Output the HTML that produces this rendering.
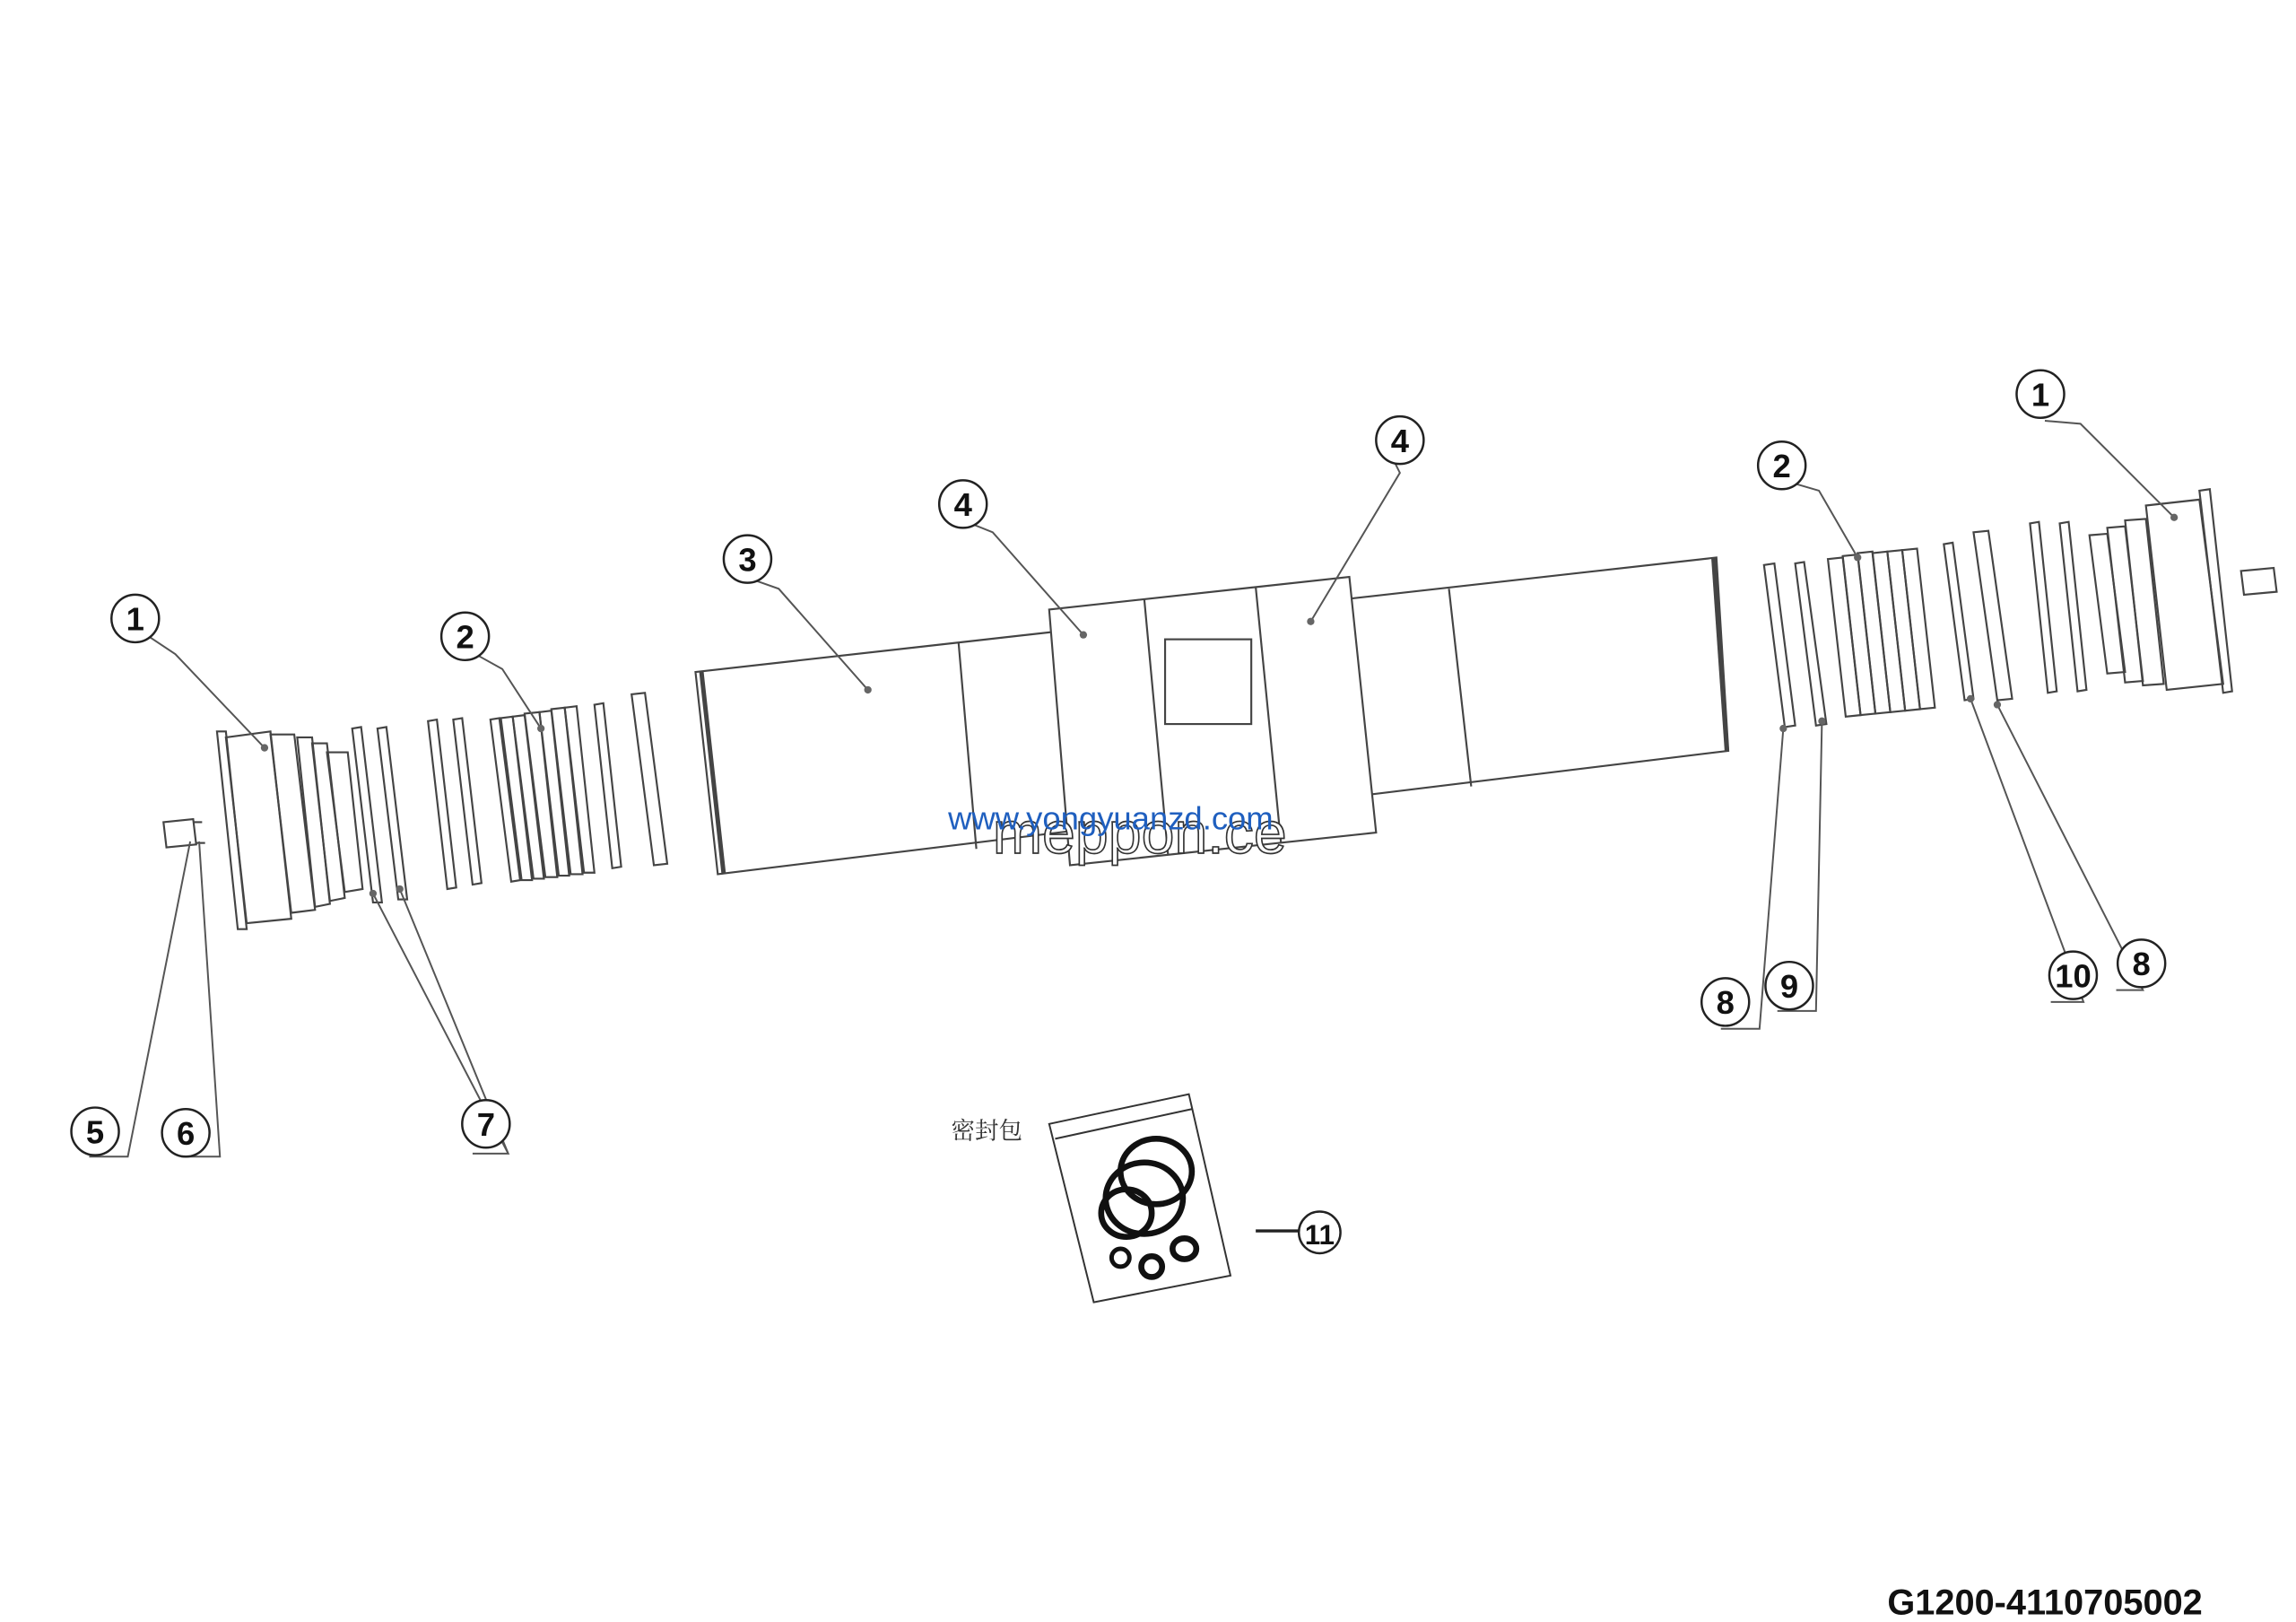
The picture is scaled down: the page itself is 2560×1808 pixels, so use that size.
<!DOCTYPE html>
<html><head><meta charset="utf-8"><style>
html,body{margin:0;padding:0;background:#fff;}
svg{display:block;}
text{font-family:"Liberation Sans",Arial,sans-serif;}
</style></head><body>
<svg width="2560" height="1808" viewBox="0 0 1545 1091" xmlns="http://www.w3.org/2000/svg">
<rect width="1545" height="1091" fill="#fff"/>
<g fill="none" stroke="#444" stroke-width="1.3">
<polygon points="468,452 1155,375 1163,505 483,588"/>
<line x1="472" y1="452" x2="487" y2="588" stroke-width="3"/>
<line x1="1153" y1="375" x2="1162" y2="505" stroke-width="3"/>
<line x1="645" y1="432" x2="657" y2="571"/>
<line x1="975" y1="396" x2="990" y2="529"/>
<polygon points="706,410 908,388 926,560 720,582" fill="#fff"/>
<line x1="770" y1="403" x2="786" y2="575"/>
<line x1="845" y1="395" x2="862" y2="567"/>
<rect x="784" y="430" width="58" height="57"/>
<polygon points="146,492 152,492 166,625 160,625"/>
<polygon points="152,496 182,492 196,618 166,621"/>
<polygon points="182,494 198,494 212,612 196,614"/>
<polygon points="200,496 210,496 222,608 212,610"/>
<polygon points="210,500 220,500 232,604 222,606"/>
<polygon points="220,506 234,506 244,598 232,600"/>
<polygon points="110,553 130,551 132,568 112,570"/>
<line x1="130" y1="553" x2="136" y2="553"/><line x1="132" y1="567" x2="138" y2="567"/>
<polygon points="237,490 243,489 257,607 251,607"/>
<polygon points="254,490 260,489 274,605 268,605"/>
<polygon points="288,485 294,484 307,597 301,598"/>
<polygon points="305,484 311,483 324,594 318,595"/>
<polygon points="330,484 336,483 350,592 344,593"/>
<polygon points="337,483 345,482 358,592 351,592"/>
<polygon points="345,482 353,481 366,591 359,591"/>
<polygon points="353,480 363,479 375,590 367,590"/>
<polygon points="363,479 371,478 383,589 376,589"/>
<polygon points="371,477 380,476 392,588 384,588"/>
<polygon points="380,476 388,475 400,587 393,587"/>
<polygon points="400,474 406,473 418,583 412,584"/>
<polygon points="425,467 434,466 449,581 440,582"/>
<polygon points="1187,380 1194,379 1208,488 1201,489"/>
<polygon points="1208,379 1214,378 1229,487 1222,488"/>
<polygon points="1230,376 1240,375 1252,481 1242,482"/>
<polygon points="1240,374 1250,373 1262,480 1252,481"/>
<polygon points="1250,372 1260,371 1272,479 1262,480"/>
<polygon points="1260,372 1270,371 1282,478 1272,479"/>
<polygon points="1270,371 1280,370 1292,477 1282,478"/>
<polygon points="1280,370 1290,369 1302,476 1292,477"/>
<polygon points="1308,366 1314,365 1328,470 1322,471"/>
<polygon points="1328,358 1338,357 1354,470 1344,471"/>
<polygon points="1366,352 1372,351 1384,465 1378,466"/>
<polygon points="1386,352 1392,351 1404,464 1398,465"/>
<polygon points="1406,360 1418,359 1430,452 1418,453"/>
<polygon points="1418,355 1430,354 1442,458 1430,459"/>
<polygon points="1430,350 1444,349 1456,460 1442,461"/>
<polygon points="1444,340 1480,336 1496,460 1458,464"/>
<polygon points="1480,330 1487,329 1502,465 1496,466"/>
<polygon points="1508,384 1530,382 1532,398 1510,400"/>
</g>
<g fill="none" stroke="#555" stroke-width="1.2">
<polyline points="100,428 118,440 178,503"/>
<polyline points="320,440 338,450 364,490"/>
<polyline points="507,390 524,396 584,464"/>
<polyline points="653,352 668,358 729,427"/>
<polyline points="938,310 942,318 882,418"/>
<polyline points="1200,323 1224,330 1250,375"/>
<polyline points="1376,283 1400,285 1463,348"/>
<polyline points="60,778 86,778 128,566"/>
<polyline points="122,778 148,778 134,566"/>
<path d="M318,776 L342,776 L251,601 M342,776 L269,598"/>
<polyline points="1158,692 1184,692 1200,490"/>
<polyline points="1196,680 1222,680 1226,485"/>
<polyline points="1380,674 1402,674 1326,470"/>
<polyline points="1424,666 1442,666 1344,474"/>
<line x1="845" y1="828" x2="876" y2="828" stroke="#222" stroke-width="2"/>
</g>
<g fill="#666">
<circle cx="178" cy="503" r="2.5"/><circle cx="364" cy="490" r="2.5"/><circle cx="584" cy="464" r="2.5"/>
<circle cx="729" cy="427" r="2.5"/><circle cx="882" cy="418" r="2.5"/><circle cx="1250" cy="375" r="2.5"/>
<circle cx="1463" cy="348" r="2.5"/><circle cx="251" cy="601" r="2.5"/><circle cx="269" cy="598" r="2.5"/>
<circle cx="1200" cy="490" r="2.5"/><circle cx="1226" cy="485" r="2.5"/><circle cx="1326" cy="470" r="2.5"/><circle cx="1344" cy="474" r="2.5"/>
</g>
<g fill="#fff" stroke="#222" stroke-width="1.5">
<circle cx="91" cy="416" r="16"/><circle cx="313" cy="428" r="16"/><circle cx="503" cy="376" r="16"/>
<circle cx="648" cy="339" r="16"/><circle cx="942" cy="296" r="16"/><circle cx="1199" cy="313" r="16"/>
<circle cx="1373" cy="265" r="16"/><circle cx="64" cy="761" r="16"/><circle cx="125" cy="762" r="16"/>
<circle cx="327" cy="756" r="16"/><circle cx="1161" cy="674" r="16"/><circle cx="1204" cy="663" r="16"/>
<circle cx="1395" cy="656" r="16"/><circle cx="1441" cy="648" r="16"/><circle cx="888" cy="829" r="14"/>
</g>
<g font-size="22" font-weight="bold" fill="#111" text-anchor="middle">
<text x="91" y="424">1</text><text x="313" y="436">2</text><text x="503" y="384">3</text>
<text x="648" y="347">4</text><text x="942" y="304">4</text><text x="1199" y="321">2</text>
<text x="1373" y="273">1</text><text x="64" y="769">5</text><text x="125" y="770">6</text>
<text x="327" y="764">7</text><text x="1161" y="682">8</text><text x="1204" y="671">9</text>
<text x="1395" y="664">10</text><text x="1441" y="656">8</text><text x="888" y="837" font-size="19">11</text>
</g>
<g fill="none" stroke="#333" stroke-width="1.2">
<polygon points="706,756 800,736 828,858 736,876"/>
<line x1="710" y1="766" x2="802" y2="746"/>
</g>
<g fill="none" stroke="#111">
<ellipse cx="778" cy="788" rx="24" ry="22" stroke-width="4"/>
<ellipse cx="770" cy="806" rx="26" ry="24" stroke-width="4"/>
<ellipse cx="758" cy="816" rx="17" ry="16" stroke-width="4"/>
<ellipse cx="754" cy="846" rx="6" ry="6" stroke-width="3"/>
<ellipse cx="775" cy="852" rx="7" ry="7" stroke-width="4"/>
<ellipse cx="797" cy="840" rx="8" ry="7" stroke-width="4"/>
</g>
<text x="640" y="766" font-size="16" fill="#333" style="font-family:'Noto Serif CJK SC','Noto Sans CJK SC',serif">密封包</text>
<text x="668" y="574" font-size="40" fill="#fff" stroke="#333" stroke-width="1">meppon.ce</text>
<text x="638" y="558" font-size="22" fill="#1f5fbf">www.yongyuanzd.com</text>
<text x="1270" y="1086" font-size="24" font-weight="bold" fill="#111">G1200-4110705002</text>
</svg>
</body></html>
